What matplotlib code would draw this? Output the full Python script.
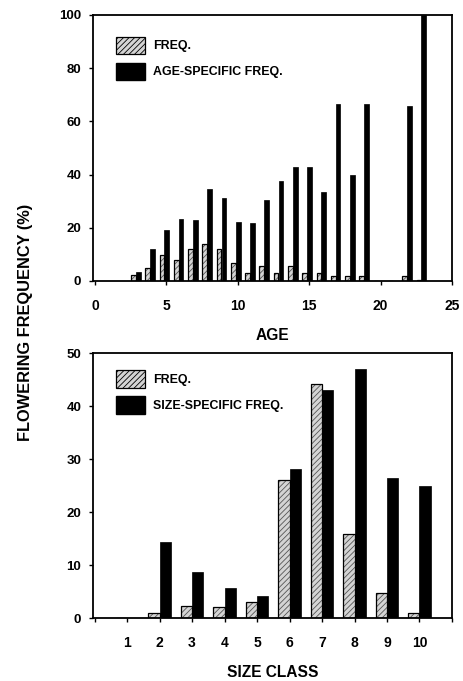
import matplotlib
matplotlib.use("Agg")
import matplotlib.pyplot as plt
import numpy as np
from matplotlib.patches import Patch

plt.rcParams['font.family'] = ['Liberation Sans', 'DejaVu Sans']
plt.rcParams['font.weight'] = 'bold'
plt.rcParams['hatch.linewidth'] = 0.6

# top panel: flowering by age
ages = np.arange(3, 24)
age_freq = [2.3, 5, 9.8, 7.9, 11.9, 13.8, 11.9, 6.9, 2.9, 5.8, 2.9,
            5.8, 2.9, 2.9, 1.9, 1.9, 1.9, 0, 0, 1.9, 0.5]
age_specific = [3.5, 11.9, 19.2, 23.3, 22.9, 34.5, 31.1, 22.3, 21.7, 30.5, 37.7,
                42.7, 42.7, 33.3, 66.4, 39.8, 66.4, 0, 0, 65.9, 100]

# bottom panel: flowering by size class
size_classes = np.arange(1, 11)
size_freq = [0, 1.0, 2.2, 2.1, 3.0, 26.1, 44.2, 15.9, 4.8, 0.9]
size_specific = [0, 14.3, 8.6, 5.7, 4.1, 28.1, 43.1, 47.0, 26.4, 25.0]

HATCH_FACE = '#d4d4d4'
HATCH = '//////'


def hatched_bars(ax, x, h, w, align):
    # hatch layer first, then a plain black outline on top
    ax.bar(x, h, w, align=align, facecolor=HATCH_FACE, hatch=HATCH,
           edgecolor='#555555', linewidth=0)
    ax.bar(x, h, w, align=align, fill=False, edgecolor='black', linewidth=0.9)


def style_axes(ax):
    for s in ax.spines.values():
        s.set_linewidth(1.3)
    ax.tick_params(direction='out', length=3, width=1, labelsize=9.5)
    ax.tick_params(axis='x', pad=10, labelsize=10)
    ax.tick_params(axis='y', pad=5.5)


def add_legend(ax, second_label, anchor):
    handles = [Patch(facecolor=HATCH_FACE, hatch=HATCH, edgecolor='black', linewidth=0.9),
               Patch(facecolor='black', edgecolor='black')]
    ax.legend(handles, ['FREQ.', second_label], loc='upper left',
              bbox_to_anchor=anchor, frameon=False, borderpad=0, borderaxespad=0,
              prop={'size': 8.9, 'weight': 'bold'},
              handlelength=2.35, handleheight=1.8, handletextpad=0.62,
              labelspacing=0.7)


fig = plt.figure(figsize=(4.64, 6.81), dpi=100)
ax1 = fig.add_axes([0.2004, 0.5874, 0.7737, 0.3906])
ax2 = fig.add_axes([0.2004, 0.0925, 0.7737, 0.3891])

# top
w = 0.33
hatched_bars(ax1, ages - 0.32, age_freq, w, 'center')
ax1.bar(ages + 0.02, age_specific, w, color='black', edgecolor='black', linewidth=0.5)
ax1.set_xlim(-0.15, 25)
ax1.set_ylim(0, 100)
ax1.set_xticks([0, 5, 10, 15, 20, 25])
ax1.set_yticks([0, 20, 40, 60, 80, 100])
ax1.set_xlabel('AGE', fontsize=11.2, fontweight='bold', labelpad=11)
style_axes(ax1)
add_legend(ax1, 'AGE-SPECIFIC FREQ.', (0.064, 0.919))

# bottom
w2 = 0.35
hatched_bars(ax2, size_classes - w2, size_freq, w2, 'edge')
ax2.bar(size_classes, size_specific, w2, align='edge', color='black',
        edgecolor='black', linewidth=0.5)
ax2.set_xlim(-0.05, 11)
ax2.set_ylim(0, 50)
ax2.set_xticks(np.arange(0, 12))
ax2.set_xticklabels([''] + [str(c) for c in size_classes] + [''])
ax2.set_yticks([0, 10, 20, 30, 40, 50])
ax2.set_xlabel('SIZE CLASS', fontsize=11.2, fontweight='bold', labelpad=10.5)
style_axes(ax2)
add_legend(ax2, 'SIZE-SPECIFIC FREQ.', (0.064, 0.935))

fig.text(0.055, 0.527, 'FLOWERING FREQUENCY (%)', rotation=90, ha='center', va='center',
         fontsize=11.8, fontweight='bold')

fig.savefig('out.png', dpi=100)
